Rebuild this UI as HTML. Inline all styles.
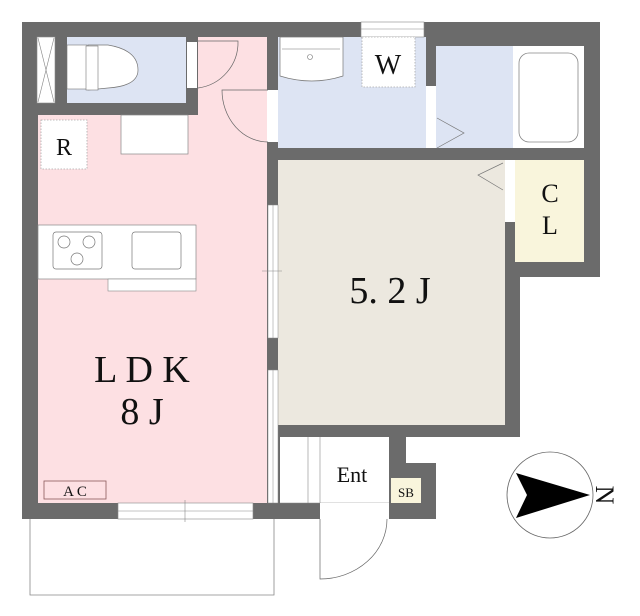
<!DOCTYPE html>
<html><head><meta charset="utf-8"><style>body{margin:0;background:#fff}svg{display:block}text{font-family:"Liberation Serif",serif;fill:#111}</style></head><body>
<svg width="640" height="616" viewBox="0 0 640 616" xmlns="http://www.w3.org/2000/svg">
<!-- building mass -->
<polygon points="22,22 600,22 600,277 520,277 520,437 406,437 406,463 436,463 436,519 22,519" fill="#6b6b6b"/>
<!-- LDK -->
<polygon points="38,115 198,115 198,37 267,37 267,503 38,503" fill="#fde0e3"/>
<!-- closet small -->
<rect x="37" y="37" width="18" height="66" fill="#fff" stroke="#888" stroke-width="0.6"/>
<path d="M38,38 L54,102 M54,38 L38,102" stroke="#888" stroke-width="0.6"/>
<!-- toilet -->
<rect x="67" y="37" width="119" height="66" fill="#dde4f3"/>
<rect x="67" y="45" width="20" height="44" fill="#fff" stroke="#777" stroke-width="0.6"/>
<path d="M88,45 L108,45 Q138,50 138,70 Q138,86 108,88 L88,90 Z" fill="#fff" stroke="#777" stroke-width="0.7"/>
<rect x="86" y="46" width="12" height="44" fill="#fff" stroke="#777" stroke-width="0.6"/>
<!-- toilet door -->
<rect x="187" y="42" width="10" height="46" fill="#fff"/>
<path d="M198,41 L238,41 A46,46 0 0 1 198,88" fill="none" stroke="#666" stroke-width="0.7"/>
<!-- wash door -->
<rect x="267" y="90" width="11" height="52" fill="#fff"/>
<path d="M268,90 L222,90 A46,52 0 0 0 268,142" fill="none" stroke="#666" stroke-width="0.7"/>
<!-- R -->
<rect x="41" y="120" width="46" height="49" fill="#fff" stroke="#aaa" stroke-width="0.8" stroke-dasharray="1.5,1.5"/>
<text x="64" y="155" font-size="24" text-anchor="middle">R</text>
<rect x="121" y="115" width="67" height="39" fill="#fff" stroke="#888" stroke-width="0.7"/>
<!-- kitchen -->
<rect x="38" y="225" width="158" height="54" fill="#fff" stroke="#888" stroke-width="0.7"/>
<rect x="53" y="232" width="49" height="37" rx="3" fill="#fff" stroke="#777" stroke-width="0.7"/>
<circle cx="64" cy="242" r="6" fill="none" stroke="#777" stroke-width="0.7"/>
<circle cx="89" cy="242" r="6" fill="none" stroke="#777" stroke-width="0.7"/>
<circle cx="77" cy="259" r="6" fill="none" stroke="#777" stroke-width="0.7"/>
<rect x="132" y="232" width="49" height="37" rx="3" fill="#fff" stroke="#777" stroke-width="0.7"/>
<rect x="108" y="279" width="88" height="12" fill="#fff" stroke="#888" stroke-width="0.6"/>
<!-- washroom -->
<rect x="278" y="37" width="148" height="111" fill="#dde4f3"/>
<rect x="361" y="22" width="63" height="15" fill="#fff" stroke="#888" stroke-width="0.6"/>
<line x1="361" y1="29" x2="424" y2="29" stroke="#888" stroke-width="0.6"/>
<path d="M280,37 L343,37 L343,76 Q312,86 280,76 Z" fill="#fff" stroke="#777" stroke-width="0.7"/>
<line x1="282" y1="49" x2="340" y2="49" stroke="#777" stroke-width="0.6"/>
<circle cx="310" cy="57" r="2.5" fill="none" stroke="#777" stroke-width="0.6"/>
<rect x="362" y="37" width="53" height="50" fill="#fff" stroke="#aaa" stroke-width="0.8" stroke-dasharray="1.5,1.5"/>
<text x="388" y="74" font-size="28" text-anchor="middle">W</text>
<!-- bath -->
<rect x="436" y="46" width="77" height="102" fill="#dde4f3"/>
<rect x="426" y="86" width="10" height="62" fill="#fff"/>
<path d="M437,118 L464,133 L437,148" fill="none" stroke="#777" stroke-width="0.7"/>
<rect x="513" y="46" width="71" height="102" fill="#fff"/>
<rect x="519" y="53" width="59" height="89" rx="10" fill="#fff" stroke="#888" stroke-width="0.8"/>
<!-- bedroom -->
<rect x="278" y="160" width="227" height="265" fill="#ece8df"/>
<rect x="268" y="205" width="10" height="133" fill="#fff" stroke="#888" stroke-width="0.5"/>
<line x1="273" y1="205" x2="273" y2="338" stroke="#888" stroke-width="0.5"/>
<line x1="262" y1="271" x2="282" y2="271" stroke="#888" stroke-width="0.6"/>
<rect x="268" y="370" width="10" height="133" fill="#fff" stroke="#888" stroke-width="0.5"/>
<line x1="273" y1="370" x2="273" y2="503" stroke="#888" stroke-width="0.5"/>
<path d="M503,163 L478,175 L503,190" fill="none" stroke="#777" stroke-width="0.7"/>
<text x="390" y="303" font-size="38" text-anchor="middle">5. 2 J</text>
<!-- CL -->
<rect x="505" y="160" width="10" height="62" fill="#fff"/>
<rect x="515" y="160" width="69" height="102" fill="#f9f5dc"/>
<text x="550" y="202" font-size="26" text-anchor="middle">C</text>
<text x="550" y="234" font-size="26" text-anchor="middle">L</text>
<!-- LDK text -->
<text x="142" y="382" font-size="38" text-anchor="middle">L D K</text>
<text x="142" y="424" font-size="38" text-anchor="middle">8 J</text>
<rect x="44" y="481" width="62" height="18" fill="none" stroke="#8a5a5a" stroke-width="0.8"/>
<text x="75" y="496" font-size="15" text-anchor="middle">A C</text>
<!-- entrance -->
<rect x="280" y="437" width="109" height="66" fill="#fff"/>
<line x1="308" y1="437" x2="308" y2="503" stroke="#888" stroke-width="0.6"/>
<line x1="320" y1="437" x2="320" y2="503" stroke="#888" stroke-width="0.6"/>
<line x1="280" y1="503" x2="389" y2="503" stroke="#888" stroke-width="0.6"/>
<text x="352" y="482" font-size="22" text-anchor="middle">Ent</text>
<rect x="391" y="478" width="30" height="25" fill="#f9f5dc"/>
<text x="406" y="497" font-size="13" text-anchor="middle">SB</text>
<rect x="320" y="503" width="69" height="16" fill="#fff"/>
<path d="M320,519 L320,579 A67,60 0 0 0 387,519" fill="none" stroke="#666" stroke-width="0.7"/>
<!-- bottom window -->
<rect x="118" y="503" width="135" height="16" fill="#fff" stroke="#888" stroke-width="0.6"/>
<line x1="118" y1="511" x2="253" y2="511" stroke="#888" stroke-width="0.5"/>
<line x1="185" y1="500" x2="185" y2="522" stroke="#888" stroke-width="0.6"/>
<!-- balcony -->
<polyline points="30,519 30,595 274,595 274,519" fill="none" stroke="#888" stroke-width="0.8"/>
<!-- compass -->
<circle cx="550" cy="495" r="43" fill="none" stroke="#666" stroke-width="0.8"/>
<polygon points="516,473 590,495 516,518 527,495" fill="#000"/>
<text x="605" y="495" font-size="26" text-anchor="middle" transform="rotate(90 605 495)" dy="9">N</text>
</svg>
</body></html>
